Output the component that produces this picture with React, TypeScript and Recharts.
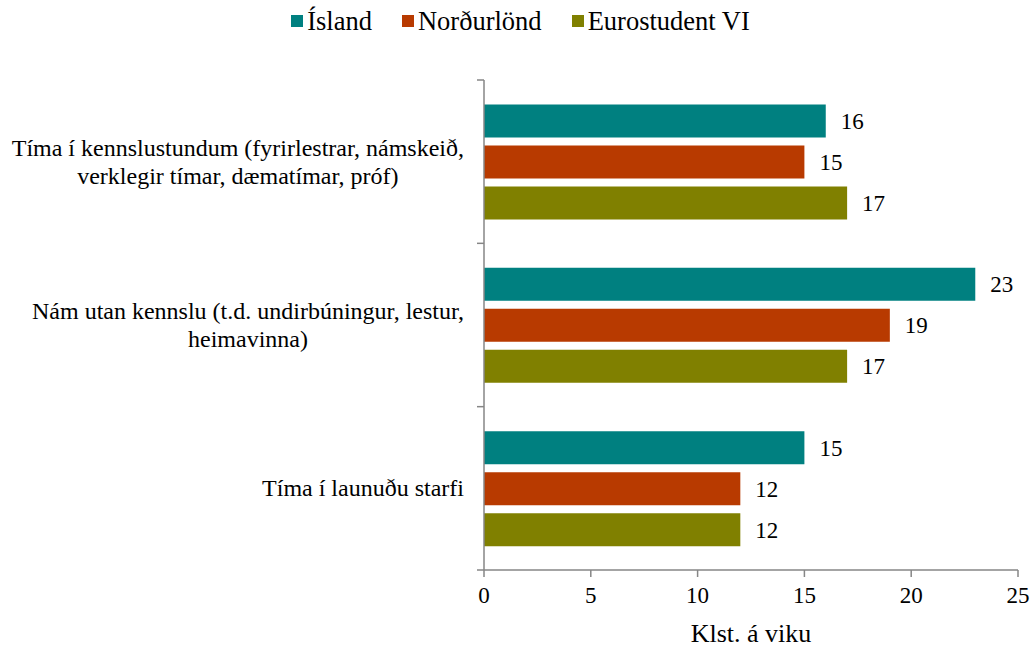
import React from "react";
import {
  BarChart,
  Bar,
  XAxis,
  YAxis,
  LabelList,
} from "recharts";

const categoryLines: string[][] = [
  ["Tíma í kennslustundum (fyrirlestrar, námskeið,", "verklegir tímar, dæmatímar, próf)"],
  ["Nám utan kennslu (t.d. undirbúningur, lestur,", "heimavinna)"],
  ["Tíma í launuðu starfi"],
];
const islandValues = [16, 23, 15];
const nordurlondValues = [15, 19, 12];
const eurostudentValues = [17, 17, 12];
const xTicks = [0, 5, 10, 15, 20, 25];

const seriesNames = ["Ísland", "Norðurlönd", "Eurostudent VI"];
const seriesKeys = ["island", "nordurlond", "eurostudent"];
const seriesColors = ["#008080", "#B83A00", "#808000"];

const data = categoryLines.map((lines, i) => ({
  name: lines.join(" "),
  island: islandValues[i],
  nordurlond: nordurlondValues[i],
  eurostudent: eurostudentValues[i],
}));

if (typeof document !== "undefined") {
  document.documentElement.style.overflow = "hidden";
  document.body.style.margin = "0";
  document.body.style.overflow = "hidden";
}

const FONT = "Liberation Serif";
const AXIS_COLOR = "#868686";
const W = 1033;
const H = 647;
const PLOT_TOP = 80;
const PLOT_BOTTOM = 570;
const PLOT_RIGHT = 1018;
const Y_AXIS_W = 484;
const BAND = (PLOT_BOTTOM - PLOT_TOP) / categoryLines.length;

let ctx: CanvasRenderingContext2D | null = null;
function measure(text: string, size: number) {
  if (!ctx) ctx = document.createElement("canvas").getContext("2d");
  if (!ctx) return text.length * size * 0.45;
  ctx.font = `${size}px "Liberation Serif"`;
  return ctx.measureText(text).width;
}

// category labels: centred block, right edge 20px left of the axis, plus the
// boundary tick marks Excel puts between categories
function CategoryTick(props: any) {
  const { x, y, index } = props;
  const lines = categoryLines[index] || [];
  const size = 24;
  const lh = 28;
  const start = y - ((lines.length - 1) * lh) / 2;
  const maxW = Math.max(...lines.map((l) => measure(l, size)));
  const cx = x - 20 - maxW / 2;
  return (
    <g>
      <line x1={x - 7} x2={x} y1={y - BAND / 2} y2={y - BAND / 2} stroke={AXIS_COLOR} strokeWidth={1.5} />
      {index === categoryLines.length - 1 && (
        <line x1={x - 7} x2={x} y1={y + BAND / 2} y2={y + BAND / 2} stroke={AXIS_COLOR} strokeWidth={1.5} />
      )}
      {lines.map((l, i) => (
        <text key={i} x={cx} y={start + i * lh} textAnchor="middle" dominantBaseline="central"
          fontFamily={FONT} fontSize={size} fill="#000">{l}</text>
      ))}
    </g>
  );
}

function LegendRow() {
  return (
    <div style={{ position: "absolute", top: 8, left: 8, width: 1025, display: "flex", justifyContent: "center",
      gap: 30, fontFamily: FONT, fontSize: 26.5, lineHeight: "26px" }}>
      {seriesNames.map((n, i) => (
        <div key={n} style={{ display: "flex", alignItems: "center", gap: 4 }}>
          <span style={{ display: "inline-block", width: 12, height: 12, background: seriesColors[i] }} />
          <span>{n}</span>
        </div>
      ))}
    </div>
  );
}

function AxisTitle(props: any) {
  const { viewBox } = props;
  return (
    <text x={viewBox.x + viewBox.width / 2} y={642} textAnchor="middle"
      fontFamily={FONT} fontSize={26} fill="#000">Klst. á viku</text>
  );
}

export default function App() {
  return (
    <div style={{ position: "relative", width: W, height: H }}>
      <BarChart
        width={W}
        height={H}
        data={data}
        layout="vertical"
        margin={{ top: PLOT_TOP, right: W - PLOT_RIGHT, left: 0, bottom: 0 }}
        barCategoryGap="15%"
        barGap={8}
      >
        <XAxis
          type="number"
          domain={[0, 25]}
          ticks={xTicks}
          height={H - PLOT_BOTTOM}
          stroke={AXIS_COLOR}
          strokeWidth={1.5}
          tickSize={7}
          tickMargin={10}
          tick={{ fill: "#000", fontFamily: FONT, fontSize: 23 }}
          label={<AxisTitle />}
        />
        <YAxis
          type="category"
          dataKey="name"
          width={Y_AXIS_W}
          stroke={AXIS_COLOR}
          strokeWidth={1.5}
          tickLine={false}
          tickSize={0}
          tickMargin={0}
          tick={<CategoryTick />}
          interval={0}
        />
        {seriesKeys.map((k, i) => (
          <Bar key={k} dataKey={k} name={seriesNames[i]} fill={seriesColors[i]} isAnimationActive={false}>
            <LabelList dataKey={k} position="right" offset={15}
              style={{ fill: "#000", fontFamily: FONT, fontSize: 23 }} />
          </Bar>
        ))}
      </BarChart>
      <LegendRow />
    </div>
  );
}
